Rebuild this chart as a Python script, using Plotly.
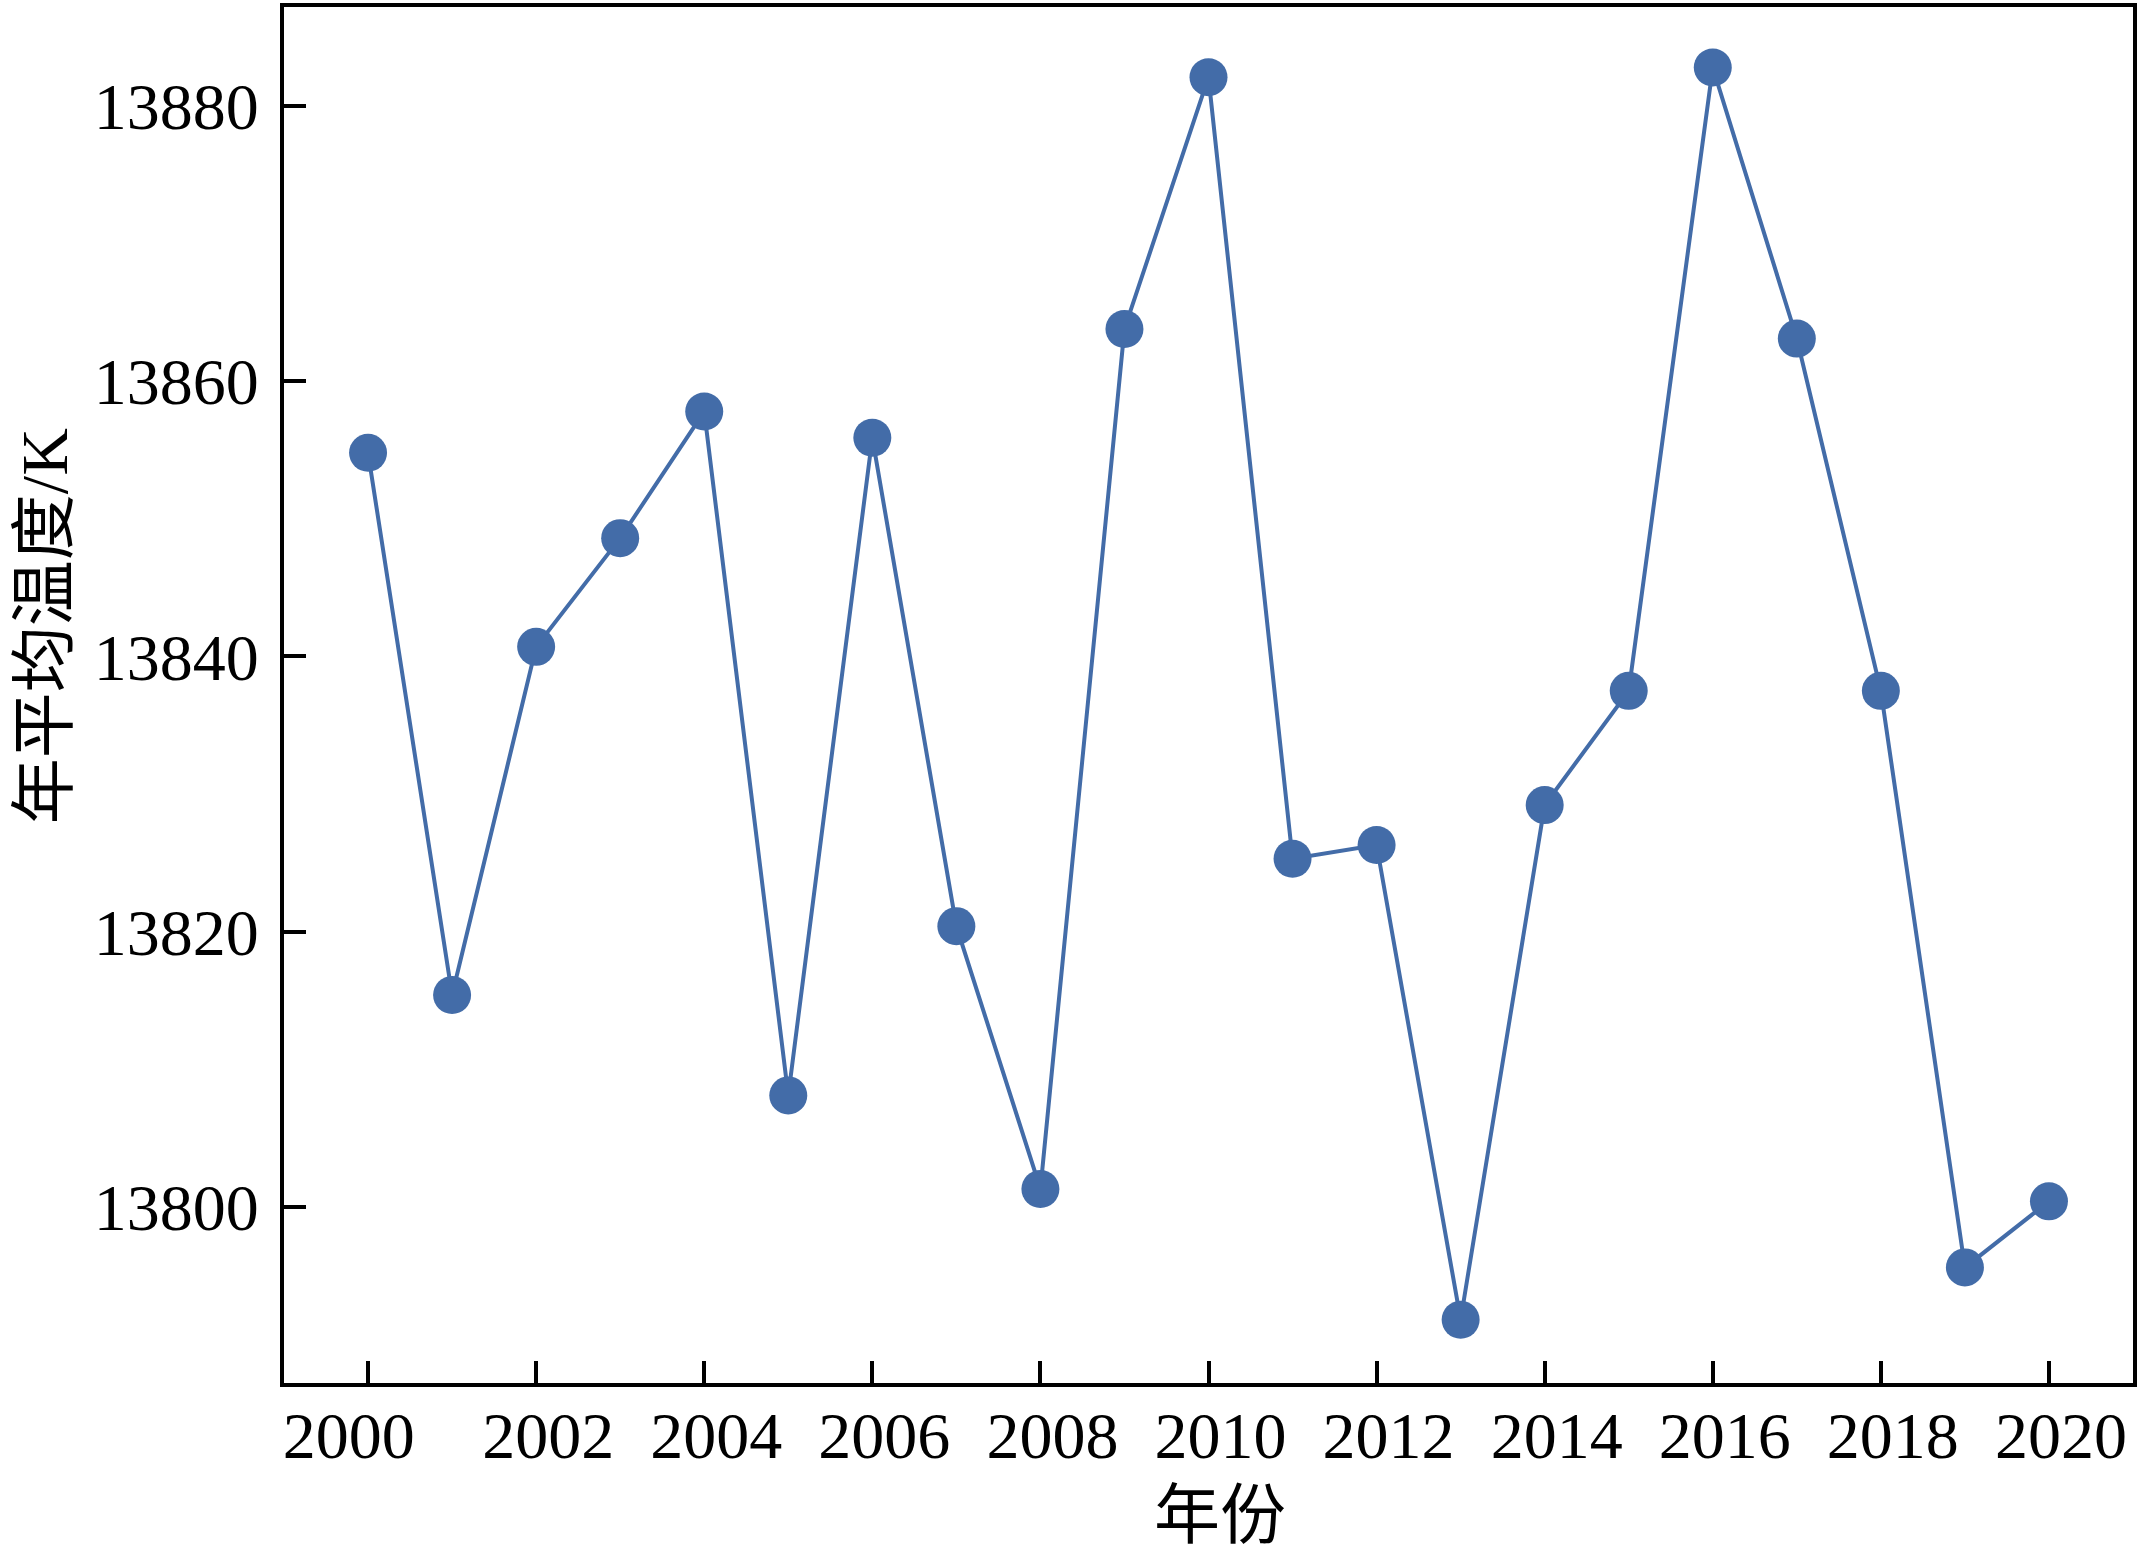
import plotly.graph_objects as go

# Data
years = list(range(2000, 2021))
temps = [13854.8, 13815.4, 13840.7, 13848.6, 13857.8, 13808.1, 13855.9,
         13820.4, 13801.3, 13863.8, 13882.1, 13825.3, 13826.3, 13791.8,
         13829.2, 13837.5, 13882.8, 13863.1, 13837.5, 13795.6, 13800.4]
x_ticks = list(range(2000, 2021, 2))
x_labels = [str(v) for v in x_ticks]
y_ticks = [13800, 13820, 13840, 13860, 13880]

blue = "#436ca8"
font_family = "Liberation Serif, Noto Sans CJK SC"

# in the original the first year label sits a bit left of its tick
x_text = list(x_labels)
x_text[0] = x_text[0] + "\u2002\u00a0\u2009"

fig = go.Figure()
fig.add_trace(go.Scatter(
    x=years, y=temps,
    mode="lines+markers",
    line=dict(color=blue, width=4),
    marker=dict(color=blue, size=38),
    showlegend=False,
))

fig.update_layout(
    width=2140, height=1552,
    margin=dict(l=284, r=4, t=3, b=169),
    plot_bgcolor="white",
    paper_bgcolor="white",
    font=dict(family=font_family, size=66, color="black"),
)

fig.update_xaxes(
    range=[1999, 2021],
    tickvals=x_ticks, ticktext=x_text,
    ticks="inside", ticklen=22, tickwidth=4, tickcolor="black",
    showline=True, linewidth=4, linecolor="black", mirror=True,
    showgrid=False, zeroline=False,
    ticklabelstandoff=-8, ticklabelshift=12,
)
fig.update_yaxes(
    range=[13787.2, 13887.2],
    tickvals=y_ticks,
    tickformat="d",
    ticks="inside", ticklen=22, tickwidth=4, tickcolor="black",
    showline=True, linewidth=4, linecolor="black", mirror=True,
    showgrid=False, zeroline=False,
    ticklabelstandoff=8,
)

# axis titles as annotations to place them like the reference
fig.add_annotation(
    text="年份", xref="paper", yref="paper", x=0.5, y=0,
    xshift=11, yshift=-132, showarrow=False,
    xanchor="center", yanchor="middle", font=dict(size=66),
)
fig.add_annotation(
    text="年平均温度/K", xref="paper", yref="paper", x=0, y=0.55,
    xshift=-240, showarrow=False, textangle=-90,
    xanchor="center", yanchor="middle", font=dict(size=66),
)

# drop the default page margin so the figure fills the window
fig.write_html("out.html", config={"displayModeBar": False},
               post_script="document.body.style.margin='0';")
